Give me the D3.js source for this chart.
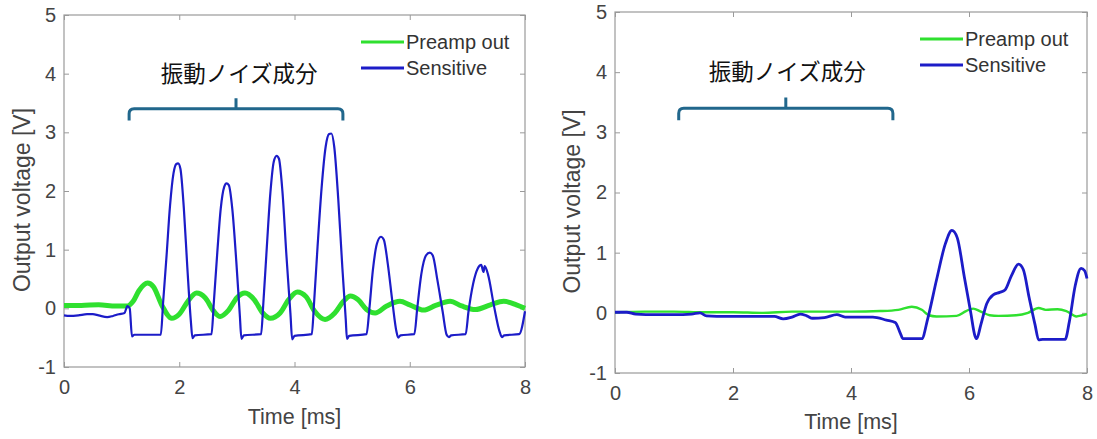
<!DOCTYPE html>
<html>
<head>
<meta charset="utf-8">
<script src="https://cdn.jsdelivr.net/npm/d3@7"></script>
<style>
  body { margin: 0; background: #fff; }
  svg { display: block; font-family: "Liberation Sans", Arial, sans-serif; }
</style>
</head>
<body>
<svg width="1097" height="439"></svg>
<script>
// values (time in ms, voltage in V)
var xTicks = [0, 2, 4, 6, 8];
var yTicks = [-1, 0, 1, 2, 3, 4, 5];
var seriesNames = ["Preamp out", "Sensitive"];
var noiseLabel = "振動ノイズ成分";

var leftPreamp = [[0,0.05],[0.3,0.05],[0.6,0.06],[0.9,0.04],[1.1,0.04],[1.2,0.12],[1.3,0.3],[1.45,0.43],
  [1.55,0.37],[1.7,0.05],[1.87,-0.17],[2.0,-0.1],[2.15,0.12],[2.3,0.26],[2.45,0.18],[2.6,-0.05],[2.71,-0.14],
  [2.85,-0.04],[3.0,0.18],[3.14,0.26],[3.3,0.15],[3.45,-0.08],[3.58,-0.17],[3.75,-0.08],[3.9,0.15],[4.05,0.28],
  [4.2,0.2],[4.35,-0.05],[4.53,-0.19],[4.7,-0.08],[4.85,0.12],[4.97,0.21],[5.1,0.15],[5.25,-0.02],[5.4,-0.08],
  [5.6,0.04],[5.83,0.12],[6.0,0.06],[6.24,-0.03],[6.45,0.05],[6.7,0.12],[6.9,0.04],[7.14,-0.02],[7.4,0.06],
  [7.63,0.12],[7.85,0.06],[8,0.0]];

var leftSensitive = [[0,-0.12],[0.1,-0.13],[0.25,-0.12],[0.4,-0.1],[0.5,-0.1],[0.6,-0.12],[0.75,-0.15],[0.85,-0.13],
  [0.95,-0.1],[1.05,-0.08],[1.1,0.04],[1.14,0.0],[1.18,-0.48],[1.22,-0.45],[1.68,-0.45],
  [1.72,0.1],[1.78,0.9],[1.84,1.75],[1.9,2.3],[1.95,2.46],[1.98,2.47],[2.02,2.38],[2.08,1.7],[2.14,0.7],[2.2,-0.2],
  [2.23,-0.51],[2.27,-0.46],[2.56,-0.44],
  [2.6,0.1],[2.66,0.95],[2.72,1.7],[2.78,2.07],[2.82,2.13],[2.86,2.1],[2.92,1.7],[2.99,0.8],[3.05,-0.1],[3.08,-0.52],
  [3.12,-0.46],[3.42,-0.44],
  [3.46,0.1],[3.52,1.05],[3.58,1.95],[3.64,2.5],[3.69,2.6],[3.73,2.55],[3.79,2.0],[3.86,0.9],[3.93,-0.1],[3.96,-0.53],
  [4.0,-0.47],[4.3,-0.44],
  [4.34,0.1],[4.4,1.05],[4.47,2.05],[4.54,2.75],[4.6,2.97],[4.64,2.98],[4.69,2.75],[4.76,1.85],[4.83,0.7],[4.89,-0.2],
  [4.91,-0.52],[4.95,-0.47],[5.25,-0.44],
  [5.3,0.0],[5.36,0.65],[5.43,1.1],[5.5,1.22],[5.55,1.17],[5.62,0.75],[5.7,0.1],[5.77,-0.4],[5.8,-0.5],[5.84,-0.46],
  [6.08,-0.44],
  [6.13,0.0],[6.2,0.58],[6.28,0.9],[6.35,0.95],[6.4,0.9],[6.48,0.48],[6.57,-0.05],[6.64,-0.45],[6.68,-0.49],
  [6.72,-0.46],[6.97,-0.44],
  [7.02,-0.05],[7.1,0.42],[7.18,0.68],[7.24,0.74],[7.28,0.62],[7.3,0.72],[7.36,0.57],[7.46,0.05],[7.56,-0.4],
  [7.6,-0.49],[7.64,-0.46],[7.9,-0.44],[8,-0.05]];

var rightPreamp = [[0,0.01],[0.5,0.02],[1.0,0.02],[1.5,0.01],[2.0,0.01],[2.5,0.0],[3.0,0.02],[3.5,0.02],[4.0,0.02],
  [4.5,0.03],[4.8,0.05],[5.03,0.1],[5.2,0.05],[5.32,-0.04],[5.45,-0.06],[5.79,-0.05],[5.95,0.03],[6.07,0.07],
  [6.2,0.02],[6.35,-0.04],[6.5,-0.05],[6.8,-0.04],[7.0,0.0],[7.18,0.08],[7.3,0.05],[7.5,0.06],[7.65,0.03],
  [7.82,-0.06],[7.92,-0.04],[8,-0.02]];

var rightSensitive = [[0,0.01],[0.2,0.01],[0.35,-0.02],[0.7,-0.03],[1.0,-0.03],[1.3,-0.02],[1.44,0.0],[1.55,-0.05],
  [1.9,-0.06],[2.3,-0.06],[2.7,-0.06],[2.85,-0.1],[3.0,-0.07],[3.14,-0.02],[3.25,-0.05],[3.35,-0.09],[3.55,-0.08],
  [3.76,-0.03],[3.9,-0.07],[4.37,-0.07],[4.6,-0.12],[4.75,-0.16],[4.84,-0.35],[4.88,-0.43],[5.2,-0.43],[5.3,-0.1],
  [5.45,0.55],[5.6,1.15],[5.71,1.37],[5.8,1.25],[5.92,0.6],[6.03,0.0],[6.1,-0.38],[6.13,-0.43],[6.2,-0.2],
  [6.3,0.15],[6.41,0.3],[6.52,0.34],[6.61,0.38],[6.72,0.62],[6.84,0.81],[6.92,0.72],[7.02,0.25],[7.12,-0.2],
  [7.18,-0.45],[7.25,-0.44],[7.63,-0.44],[7.7,-0.15],[7.8,0.45],[7.9,0.74],[7.96,0.7],[8,0.57]];

// brace over the vibration-noise part: [start, end] in ms
var leftBrace = [1.13, 4.84];
var rightBrace = [1.08, 4.71];

var green = "#2fe02f", blue = "#1c1cc8";
var svg = d3.select("svg");
var fmt = function(d) { return String(d); };  // plain hyphen for -1, like the scope export

function drawPanel(p) {
  var x = d3.scaleLinear().domain([0, 8]).range([p.left, p.right]);
  var y = d3.scaleLinear().domain([-1, 5]).range([p.bottom, p.top]);
  var g = svg.append("g");

  // frame with MATLAB-style inward ticks on all sides
  g.append("rect")
    .attr("x", p.left).attr("y", p.top)
    .attr("width", p.right - p.left).attr("height", p.bottom - p.top)
    .attr("fill", "none").attr("stroke", "#9a9a9a").attr("stroke-width", 1.2);

  var ax = [
    d3.axisBottom(x).tickValues(xTicks).tickSize(-5).tickPadding(13).tickFormat(fmt),
    d3.axisTop(x).tickValues(xTicks).tickSize(-5).tickFormat(""),
    d3.axisLeft(y).tickValues(yTicks).tickSize(-5).tickPadding(8).tickFormat(fmt),
    d3.axisRight(y).tickValues(yTicks).tickSize(-5).tickFormat("")
  ];
  var pos = ["translate(0," + p.bottom + ")", "translate(0," + p.top + ")",
             "translate(" + p.left + ",0)", "translate(" + p.right + ",0)"];
  ax.forEach(function(a, i) {
    var s = g.append("g").attr("transform", pos[i]).call(a);
    s.select(".domain").remove();
    s.selectAll(".tick line").attr("stroke", "#9a9a9a");
    s.selectAll(".tick text").attr("fill", "#444").style("font-size", "20px");
  });

  var line = d3.line()
    .x(function(d) { return x(d[0]); })
    .y(function(d) { return y(d[1]); })
    .curve(d3.curveMonotoneX);

  g.append("path").datum(p.preamp)
    .attr("fill", "none").attr("stroke", green)
    .attr("stroke-width", p.greenWidth).attr("stroke-linejoin", "round")
    .attr("d", line);
  g.append("path").datum(p.sens)
    .attr("fill", "none").attr("stroke", blue)
    .attr("stroke-width", p.blueWidth).attr("stroke-linejoin", "round")
    .attr("d", line);

  // legend
  [green, blue].forEach(function(c, i) {
    var ly = p.legY + i * 26;
    g.append("line")
      .attr("x1", p.legX).attr("x2", p.legX + 43)
      .attr("y1", ly).attr("y2", ly)
      .attr("stroke", c).attr("stroke-width", 3);
    g.append("text")
      .attr("x", p.legX + 45).attr("y", ly)
      .attr("dy", "0.35em")
      .attr("fill", "#333").style("font-size", "20px")
      .text(seriesNames[i]);
  });

  // brace annotation
  var b0 = x(p.brace[0]), b1 = x(p.brace[1]), bm = (b0 + b1) / 2;
  var yb = y(3.2), yh = y(3.4), yt = y(3.58), r = 5;
  g.append("path")
    .attr("d", "M" + b0 + "," + yb + " V" + (yh + r) + " Q" + b0 + "," + yh + " " + (b0 + r) + "," + yh +
      " H" + (b1 - r) + " Q" + b1 + "," + yh + " " + b1 + "," + (yh + r) + " V" + yb +
      " M" + bm + "," + yh + " V" + yt)
    .attr("fill", "none").attr("stroke", "#21678c").attr("stroke-width", 3);

  g.append("text")
    .attr("x", x(p.labelAt)).attr("y", y(4.0))
    .attr("dy", "0.35em").attr("text-anchor", "middle")
    .attr("fill", "#111")
    .style("font-family", "'Noto Sans CJK JP', sans-serif").style("font-size", "22.5px")
    .text(noiseLabel);

  // axis titles
  g.append("text")
    .attr("x", (p.left + p.right) / 2).attr("y", p.xTitleY)
    .attr("text-anchor", "middle").attr("fill", "#444")
    .style("font-size", "21.5px")
    .text("Time [ms]");
  g.append("text")
    .attr("transform", "translate(" + p.yTitleX + "," + ((p.top + p.bottom) / 2 + 9) + ") rotate(-90)")
    .attr("text-anchor", "middle").attr("fill", "#444")
    .style("font-size", "23px")
    .text("Output voltage [V]");
}

drawPanel({
  left: 64, right: 525, top: 15, bottom: 367,
  preamp: leftPreamp, sens: leftSensitive, greenWidth: 5, blueWidth: 2.2,
  legX: 361, legY: 42, brace: leftBrace, labelAt: 3.04,
  xTitleY: 424, yTitleX: 30
});

drawPanel({
  left: 615, right: 1087, top: 12, bottom: 373,
  preamp: rightPreamp, sens: rightSensitive, greenWidth: 2.4, blueWidth: 2.8,
  legX: 920, legY: 39, brace: rightBrace, labelAt: 2.92,
  xTitleY: 429, yTitleX: 580
});
</script>
</body>
</html>
